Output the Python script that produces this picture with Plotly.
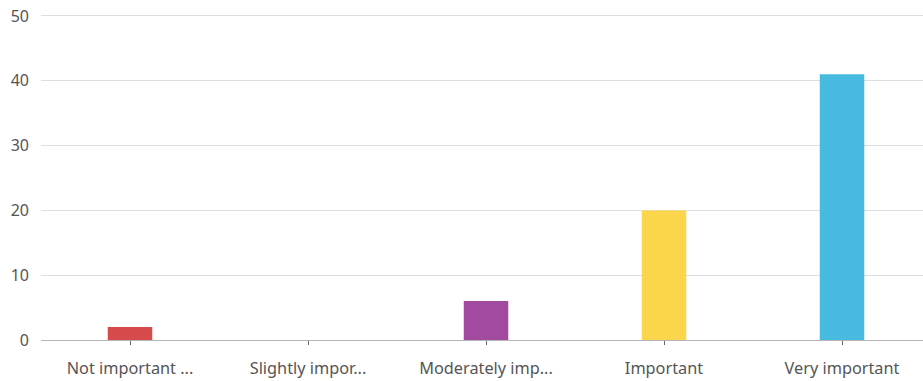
import plotly.graph_objects as go

categories = ["Not important ...", "Slightly impor...", "Moderately imp...", "Important", "Very important"]
counts = [2, 0, 6, 20, 41]
colors = ["#d64a4b", "#4a90d9", "#a24a9f", "#fbd54c", "#47bae0"]
y_ticks = [0, 10, 20, 30, 40, 50]

fig = go.Figure(
    go.Bar(
        x=list(range(len(categories))),
        y=counts,
        marker=dict(color=colors, line=dict(width=0)),
        width=0.25,
        hoverinfo="skip",
    )
)

fig.update_layout(
    width=923,
    height=381,
    margin=dict(l=41, r=0, t=14, b=41),
    paper_bgcolor="white",
    plot_bgcolor="white",
    showlegend=False,
    font=dict(family="Noto Sans, Open Sans, sans-serif", size=15, color="#555555"),
)

fig.update_xaxes(
    tickmode="array",
    tickvals=list(range(len(categories))),
    ticktext=categories,
    range=[-0.5, 4.455],
    showgrid=False,
    showline=False,
    zeroline=False,
    ticks="outside",
    ticklen=4,
    tickcolor="#666666",
    ticklabelstandoff=9,
    tickfont=dict(size=16.3, color="#555555"),
)

fig.update_yaxes(
    range=[0, 50.3],
    tickvals=y_ticks,
    showgrid=True,
    gridcolor="#dedede",
    gridwidth=1,
    zeroline=True,
    zerolinecolor="#b5b5b5",
    zerolinewidth=1,
    showline=False,
    ticks="",
    ticklabelstandoff=11,
    tickfont=dict(size=16, color="#555555"),
)

fig.write_html("out.html")
